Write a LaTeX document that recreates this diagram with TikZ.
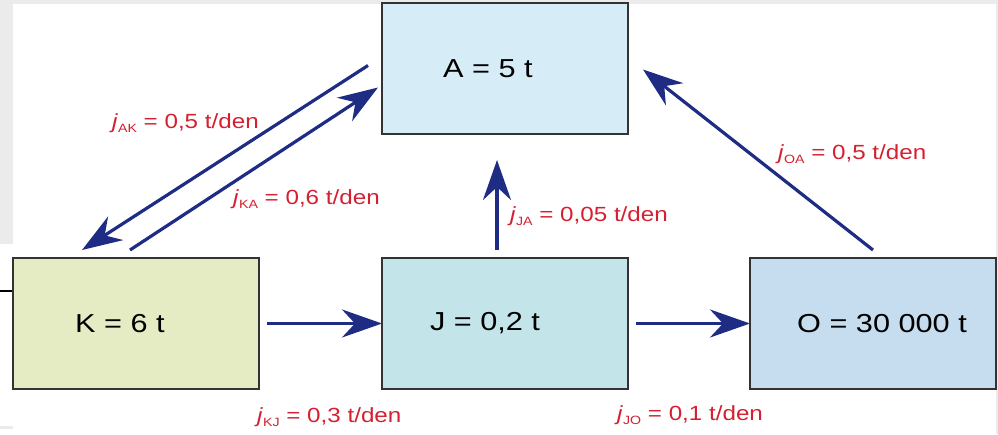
\documentclass[tikz,border=0pt]{standalone}
\usepackage{fontspec}
\setmainfont{Liberation Sans}[FakeStretch=1.18]
\usetikzlibrary{positioning,arrows.meta}

\definecolor{boxA}{HTML}{D6ECF6}
\definecolor{boxK}{HTML}{E5ECC3}
\definecolor{boxJ}{HTML}{C3E5EA}
\definecolor{boxO}{HTML}{C6DCEF}
\definecolor{flowblue}{HTML}{1E2C84}
\definecolor{flowred}{HTML}{D42030}
\definecolor{edgegrey}{HTML}{EBEBEB}

\newcommand\jflow[2]{\textit{j}\raisebox{-4pt}{\fontsize{12}{12}\selectfont #1} = #2 t/den}

\tikzset{
  store/.style={draw=black!80, line width=2pt, outer sep=0pt,
    minimum width=246pt, minimum height=131pt},
  flow/.style={draw=flowblue, line width=3.2pt,
    -{Stealth[length=40pt,width=28pt,inset=13pt]}},
  flowlabel/.style={text=flowred, anchor=base west, inner sep=0pt,
    font=\fontsize{20.5}{24}\selectfont},
  boxtext/.style={font=\fontsize{26}{30}\selectfont}
}

\begin{document}
\begin{tikzpicture}[x=1pt, y=-1pt, node distance=123pt]
    \useasboundingbox (0,0) rectangle (998,434);
    % screenshot edges
    \fill[edgegrey] (0,0) rectangle (998,4);
    \fill[edgegrey] (0,0) rectangle (13,244);
    \fill[edgegrey] (996,0) rectangle (998,434);
    \fill[edgegrey] (0,426) rectangle (13,429);
    \draw[line width=1.5pt] (0,291) -- (13,291);

    % reservoirs
    \node[store, fill=boxK, label={[boxtext, xshift=-16pt]center:K = 6 t}] (K) at (136,323.5) {};
    \node[store, fill=boxJ, right=of K, label={[boxtext, xshift=-20pt]center:J = 0,2 t}] (J) {};
    \node[store, fill=boxO, right=122pt of J, label={[boxtext, xshift=9pt]center:O = 30 000 t}] (O) {};
    \node[store, fill=boxA, above=124pt of J, label={[boxtext, xshift=-17pt]center:A = 5 t}] (A) {};

    % fluxes
    \draw[flow] ([xshift=-14pt, yshift=3pt]A.west) -- ([xshift=-54pt, yshift=8pt]K.north);
    \draw[flow] ([xshift=-6pt, yshift=8pt]K.north) -- ([xshift=-4pt, yshift=-19pt]A.west);
    \draw[flow] ([xshift=8pt]K.east) -- (J.west);
    \draw[flow] ([xshift=8pt]J.east) -- (O.west);
    \draw[flow] ([xshift=-8pt, yshift=8pt]J.north) -- ([xshift=-8pt, yshift=-26pt]A.south);
    \draw[flow] ([yshift=8pt]O.north) -- ([xshift=15pt, yshift=-1pt]A.east);

    % flux values
    \node[flowlabel] (jAK) at (112,128) {\jflow{AK}{0,5}};
    \node[flowlabel] (jKA) at (233,204) {\jflow{KA}{0,6}};
    \node[flowlabel] (jJA) at (510,221) {\jflow{JA}{0,05}};
    \node[flowlabel] (jOA) at (778,159) {\jflow{OA}{0,5}};
    \node[flowlabel] (jKJ) at (257,422) {\jflow{KJ}{0,3}};
    \node[flowlabel] (jJO) at (617,420) {\jflow{JO}{0,1}};
\end{tikzpicture}
\end{document}
